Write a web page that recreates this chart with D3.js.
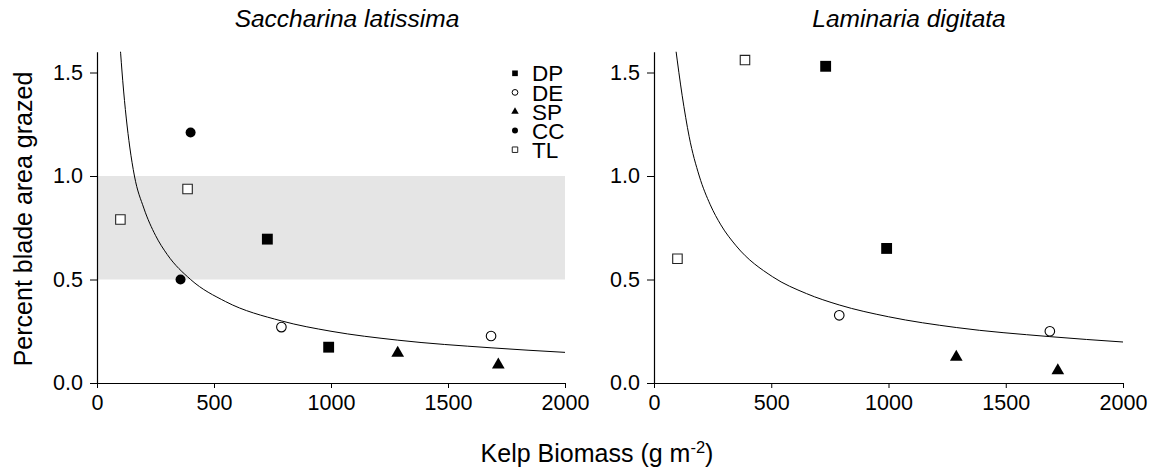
<!DOCTYPE html>
<html><head><meta charset="utf-8">
<script src="https://cdn.jsdelivr.net/npm/d3@7"></script>
<style>
body{margin:0;background:#fff}
svg{display:block}
text{font-family:"Liberation Sans",Arial,Helvetica,sans-serif;fill:#000}
</style>
</head><body><svg id="chart" width="1156" height="472"></svg>
<script>
// ---------- data ----------
const sites = ["DP","DE","SP","CC","TL"];
const xTicks = [0,500,1000,1500,2000];
const yTicks = [0,0.5,1.0,1.5];
const panelTitles = ["Saccharina latissima","Laminaria digitata"];
const xTitle = "Kelp Biomass (g m";
const xTitleSup = "-2";
const yTitle = "Percent blade area grazed";

const satSite    = ["TL","TL","CC","CC","DP","DE","DP","SP","DE","SP"];
const satBiomass = [100, 387, 400, 357, 728, 788, 990, 1285, 1684, 1715];
const satGrazed  = [0.79,0.937,1.21,0.50,0.695,0.27,0.173,0.145,0.227,0.088];

const lamSite    = ["TL","TL","DP","DP","DE","DE","SP","SP"];
const lamBiomass = [100, 388, 732, 992, 790, 1688, 1289, 1722];
const lamGrazed  = [0.60,1.56,1.53,0.65,0.327,0.25,0.125,0.06];

const satCurveX = [98,110,125,140,160,200,250,300,400,550,788,1000,1285,1684,2000];
const satCurveY = [1.64,1.46,1.28,1.14,1.00,0.845,0.713,0.621,0.50,0.393,0.30,0.25,0.207,0.17,0.148];
const lamCurveX = [92,120,150,193,240,285,350,506,650,790,1000,1289,1688,2000];
const lamCurveY = [1.62,1.39,1.19,1.00,0.861,0.764,0.663,0.513,0.432,0.377,0.32,0.268,0.224,0.198];

const band = [0.5, 1.0];

// ---------- layout ----------
const svg = d3.select("#chart");
svg.append("rect").attr("width",1156).attr("height",472).attr("fill","#fff");

const yTop = 51.8, yBot = 383;
const panels = [
  {x0:97,  x1:565,  title:panelTitles[0], titleX:347, site:satSite, bx:satBiomass, gy:satGrazed, cx:satCurveX, cy:satCurveY, band:true, legend:true},
  {x0:654, x1:1123, title:panelTitles[1], titleX:909, site:lamSite, bx:lamBiomass, gy:lamGrazed, cx:lamCurveX, cy:lamCurveY, band:false, legend:false}
];

const symType = {DP:d3.symbolSquare, DE:d3.symbolCircle, SP:d3.symbolTriangle, CC:d3.symbolCircle, TL:d3.symbolSquare};
const symFill = {DP:"#000", DE:"#fff", SP:"#000", CC:"#000", TL:"#fff"};
const symStroke = {DP:"none", DE:"#000", SP:"none", CC:"none", TL:"#222"};
const symSize = {DP:118, DE:72, SP:70, CC:78, TL:90};
const legSize = {DP:32, DE:26, SP:24, CC:28, TL:30};

panels.forEach((p,i) => {
  const x = d3.scaleLinear().domain([0,2000]).range([p.x0,p.x1]);
  const y = d3.scaleLinear().domain([0,1.6]).range([yBot,yTop]);
  const g = svg.append("g");

  const clipId = "clip"+i;
  svg.append("clipPath").attr("id",clipId).append("rect")
    .attr("x",p.x0).attr("y",yTop).attr("width",p.x1-p.x0).attr("height",yBot-yTop);

  if (p.band) {
    g.append("rect").attr("x",x(0)).attr("width",x(2000)-x(0))
      .attr("y",y(band[1])).attr("height",y(band[0])-y(band[1]))
      .attr("fill","#e5e5e5");
  }

  const line = d3.line().x(d=>x(d[0])).y(d=>y(d[1])).curve(d3.curveMonotoneX);
  g.append("path").attr("clip-path","url(#"+clipId+")")
    .attr("d", line(p.cx.map((v,k)=>[v,p.cy[k]])))
    .attr("fill","none").attr("stroke","#000").attr("stroke-width",1);

  // axes
  const xa = g.append("g").attr("transform","translate(0,"+yBot+")")
    .call(d3.axisBottom(x).tickValues(xTicks).tickFormat(d3.format("d")).tickSize(5).tickSizeOuter(0).tickPadding(7));
  const ya = g.append("g").attr("transform","translate("+p.x0+",0)")
    .call(d3.axisLeft(y).tickValues(yTicks).tickFormat(d3.format(".1f")).tickSize(7).tickSizeOuter(0).tickPadding(7));
  [xa,ya].forEach(a=>{
    a.select(".domain").attr("stroke","#000").attr("stroke-width",1.2);
    a.selectAll(".tick line").attr("stroke","#000").attr("stroke-width",1);
    a.selectAll(".tick text").attr("font-size","21.5px").attr("font-family","Liberation Sans, Arial, sans-serif").attr("fill","#000");
  });

  // points
  p.bx.forEach((b,k) => {
    const s = p.site[k];
    g.append("path")
      .attr("d", d3.symbol().type(symType[s]).size(symSize[s])())
      .attr("transform","translate("+x(b)+","+y(p.gy[k])+")")
      .attr("fill",symFill[s]).attr("stroke",symStroke[s]).attr("stroke-width",1.1);
  });

  // title
  svg.append("text").attr("x",p.titleX).attr("y",26.5).attr("text-anchor","middle")
    .attr("font-size","24.5px").attr("font-style","italic").text(p.title);

  if (p.legend) {
    sites.forEach((s,k) => {
      const ly = 73.3 + k*19.1;
      svg.append("path")
        .attr("d", d3.symbol().type(symType[s]).size(legSize[s])())
        .attr("transform","translate(515,"+ly+")")
        .attr("fill",symFill[s]).attr("stroke",symStroke[s]).attr("stroke-width",1);
      svg.append("text").attr("x",532).attr("y",ly).attr("dy","0.36em")
        .attr("font-size","22.5px").text(s);
    });
  }
});

// axis titles
const xt = svg.append("text").attr("x",597).attr("y",461.5).attr("text-anchor","middle").attr("font-size","25px");
xt.append("tspan").text(xTitle);
xt.append("tspan").attr("font-size","16.5px").attr("dy","-9").text(xTitleSup);
xt.append("tspan").attr("dy","9").text(")");

svg.append("text").attr("transform","translate(32,219) rotate(-90)")
  .attr("text-anchor","middle").attr("font-size","25px").text(yTitle);
</script>
</body></html>
